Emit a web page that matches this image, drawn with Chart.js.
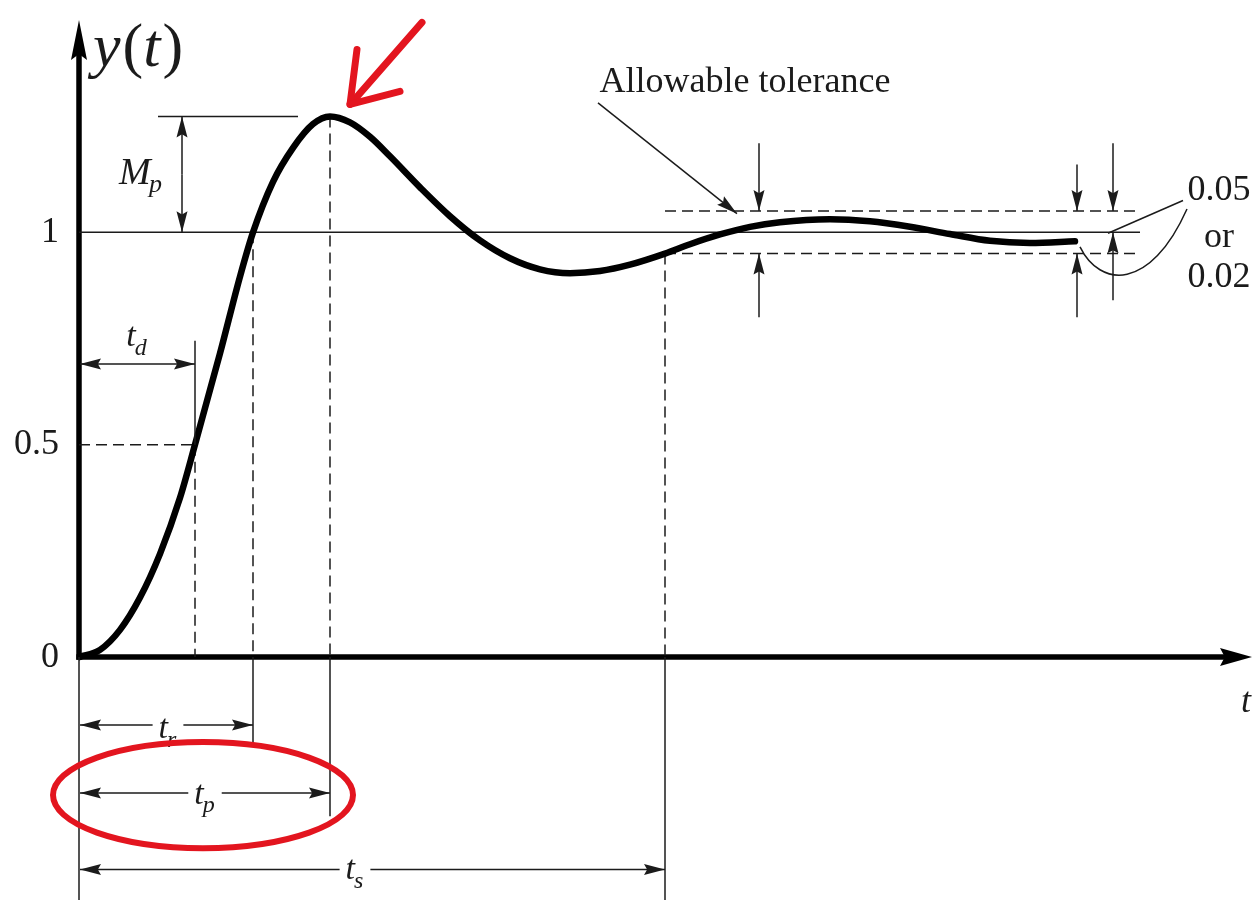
<!DOCTYPE html>
<html>
<head>
<meta charset="utf-8">
<script src="https://cdn.jsdelivr.net/npm/chart.js@4.4.0/dist/chart.umd.min.js"></script>
<style>
  html, body { margin: 0; padding: 0; background: #fff; }
  #wrap { width: 1253px; height: 904px; }
</style>
</head>
<body>
<div id="wrap"><canvas id="stepChart"></canvas></div>
<script>
// step response y(t)
const curveT = [0, 0.21, 0.41, 0.61, 0.81, 1.01, 1.16, 1.41, 1.61, 1.74, 1.94, 2.14, 2.34, 2.51,
                2.71, 2.91, 3.11, 3.41, 3.71, 4.01, 4.31, 4.61, 4.91, 5.21, 5.51, 5.86, 6.11, 6.41,
                6.71, 7.01, 7.51, 7.91, 8.31, 8.71, 9.11, 9.51, 9.96];
const curveY = [0, 0.017, 0.064, 0.140, 0.243, 0.375, 0.5, 0.715, 0.896, 1.0, 1.119, 1.199, 1.255, 1.273,
                1.259, 1.225, 1.179, 1.106, 1.038, 0.981, 0.939, 0.913, 0.904, 0.909, 0.924, 0.95, 0.972, 0.995,
                1.013, 1.024, 1.031, 1.026, 1.013, 0.996, 0.980, 0.975, 0.979];
const yTicks = [0, 0.5, 1];
const tolerance = 0.05;
// td, tr, tp, ts
const markTimes = [1.16, 1.74, 2.51, 5.86];
const peakY = Math.max(...curveY);
const markLevels = [0.5, 1, peakY, 1 - tolerance];
const refEnd = 10.61;   // where the reference and tolerance lines stop

const SERIF = '"Liberation Serif", "Times New Roman", serif';
const INK = '#1b1b1b';

function head(ctx, x1, y1, x2, y2, len, half) {
    const a = Math.atan2(y2 - y1, x2 - x1);
    const c = Math.cos(a), s = Math.sin(a);
    ctx.beginPath();
    ctx.moveTo(x2, y2);
    ctx.lineTo(x2 - len * c + half * s, y2 - len * s - half * c);
    ctx.lineTo(x2 - len * 0.85 * c, y2 - len * 0.85 * s);
    ctx.lineTo(x2 - len * c - half * s, y2 - len * s + half * c);
    ctx.closePath();
    ctx.fill();
}

function seg(ctx, x1, y1, x2, y2) {
    ctx.beginPath();
    ctx.moveTo(x1, y1);
    ctx.lineTo(x2, y2);
    ctx.stroke();
}

function arrow(ctx, x1, y1, x2, y2) {
    seg(ctx, x1, y1, x2, y2);
    head(ctx, x1, y1, x2, y2, 21, 5.5);
}

// italic main letter with a subscript, centred on cx; returns half width
function subLabel(ctx, main, sub, cx, base, size) {
    ctx.font = 'italic ' + size + 'px ' + SERIF;
    const w1 = ctx.measureText(main).width;
    ctx.font = 'italic ' + Math.round(size * 0.7) + 'px ' + SERIF;
    const w2 = ctx.measureText(sub).width;
    const left = cx - (w1 + w2) / 2;
    ctx.textAlign = 'left';
    ctx.textBaseline = 'alphabetic';
    ctx.font = 'italic ' + size + 'px ' + SERIF;
    ctx.fillText(main, left, base);
    ctx.font = 'italic ' + Math.round(size * 0.7) + 'px ' + SERIF;
    ctx.fillText(sub, left + w1 - 1, base + size * 0.25);
    return (w1 + w2) / 2;
}

// horizontal double arrow with label in a gap
function span(ctx, xa, xb, yy, main, sub, cx, dy) {
    const hw = subLabel(ctx, main, sub, cx, yy + dy, 34);
    arrow(ctx, cx - hw - 6, yy, xa, yy);
    arrow(ctx, cx + hw + 6, yy, xb, yy);
}

const annotate = {
    id: 'annotate',
    beforeDatasetsDraw(chart) {
        const { ctx, scales: { x, y } } = chart;
        const x0 = x.getPixelForValue(0), y0 = y.getPixelForValue(0);
        const yTop = y.getPixelForValue(y.max), xTip = x.getPixelForValue(x.max) + 2;
        ctx.save();
        ctx.strokeStyle = '#000';
        ctx.fillStyle = '#000';
        ctx.lineWidth = 5.5;
        seg(ctx, x0, y0 + 2.7, x0, yTop + 30);
        head(ctx, x0, y0, x0, yTop, 40, 8);
        seg(ctx, x0 - 2.7, y0, xTip - 25, y0);
        head(ctx, x0, y0, xTip, y0, 32, 9);
        ctx.restore();
    },
    afterDatasetsDraw(chart) {
        const { ctx, scales: { x, y } } = chart;
        const X = v => x.getPixelForValue(v), Y = v => y.getPixelForValue(v);
        const [td, tr, tp, ts] = markTimes.map(X);
        const x0 = X(0), y0 = Y(0), y1 = Y(1), yp = Y(peakY);
        const yHi = Y(1 + tolerance), yLo = Y(1 - tolerance);

        ctx.save();
        ctx.strokeStyle = INK;
        ctx.fillStyle = INK;
        ctx.lineWidth = 1.5;

        // thin solid guides
        seg(ctx, td, Y(0.745), td, Y(0.5));
        seg(ctx, X(0.79), yp, X(2.19), yp);
        seg(ctx, x0, y0, x0, Y(-0.572));
        seg(ctx, tr, y0, tr, Y(-0.21));
        seg(ctx, tp, y0, tp, Y(-0.375));
        seg(ctx, ts, y0, ts, Y(-0.572));

        // t_d
        const yd = Y(0.69);
        arrow(ctx, (x0 + td) / 2, yd, x0 + 1, yd);
        arrow(ctx, (x0 + td) / 2, yd, td, yd);
        subLabel(ctx, 't', 'd', (x0 + td) / 2, yd - 18, 34);

        // M_p
        const xm = X(1.03);
        arrow(ctx, xm, (y1 + yp) / 2, xm, yp);
        arrow(ctx, xm, (y1 + yp) / 2, xm, y1);
        ctx.font = 'italic 38px ' + SERIF;
        ctx.textAlign = 'left';
        ctx.fillText('M', 119, Y(1.113));
        ctx.font = 'italic 26px ' + SERIF;
        ctx.fillText('p', 149, Y(1.095));

        // t_r, t_p, t_s
        span(ctx, x0 + 1, tr, Y(-0.16), 't', 'r', X(0.89), 13);
        span(ctx, x0 + 1, tp, Y(-0.32), 't', 'p', X(1.26), 11);
        span(ctx, x0 + 1, ts, Y(-0.50), 't', 's', X(2.76), 10);

        // tolerance arrows
        [[6.80, 1.21, 0.80, yLo], [9.98, 1.16, 0.80, yLo], [10.34, 1.21, 0.84, y1]].forEach(a => {
            const xx = X(a[0]);
            arrow(ctx, xx, Y(a[1]), xx, yHi);
            arrow(ctx, xx, Y(a[2]), xx, a[3]);
        });

        // Allowable tolerance pointer
        arrow(ctx, X(5.19), Y(1.305), X(6.58), Y(1.044));
        ctx.font = '36px ' + SERIF;
        ctx.textAlign = 'center';
        ctx.textBaseline = 'middle';
        ctx.fillText('Allowable tolerance', X(6.66), Y(1.353));

        // 0.05 / or / 0.02 with leaders
        const xt = X(11.40);
        ctx.fillText('0.05', xt, Y(1.099));
        ctx.fillText('or', xt, Y(0.988));
        ctx.fillText('0.02', xt, Y(0.894));
        seg(ctx, X(11.04), Y(1.075), X(10.29), Y(0.998));
        ctx.beginPath();
        ctx.moveTo(X(11.08), Y(1.055));
        ctx.bezierCurveTo(X(10.71), Y(0.86), X(10.21), Y(0.87), X(10.01), Y(0.966));
        ctx.stroke();

        // axis labels
        ctx.textAlign = 'left';
        ctx.textBaseline = 'alphabetic';
        ctx.font = 'italic 36px ' + SERIF;
        ctx.fillText('t', X(11.62), Y(-0.13));
        let px = 93;
        const pieces = [['y', 'italic '], ['(', ''], ['t', 'italic '], [')', '']];
        pieces.forEach(p => {
            ctx.font = p[1] + '62px ' + SERIF;
            ctx.fillText(p[0], px, 66);
            px += ctx.measureText(p[0]).width + (p[1] ? 2 : 0);
        });

        // red marks
        ctx.strokeStyle = '#e3151f';
        ctx.lineWidth = 7;
        ctx.lineCap = 'round';
        ctx.lineJoin = 'round';
        const px0 = X(2.51), py0 = yp;
        seg(ctx, px0 + 92, py0 - 94, px0 + 22, py0 - 14);
        seg(ctx, px0 + 27, py0 - 67, px0 + 20, py0 - 12);
        seg(ctx, px0 + 70, py0 - 25, px0 + 20, py0 - 12);
        ctx.lineWidth = 6;
        ctx.beginPath();
        ctx.ellipse(X(1.24), Y(-0.325), X(1.5) - x0, Y(-0.325) - Y(-0.2), 0, 0, Math.PI * 2);
        ctx.stroke();
        ctx.restore();
    }
};

const guide = (pts, dashed) => ({
    data: pts,
    borderColor: INK,
    borderWidth: 1.5,
    borderDash: dashed ? [11, 6] : [],
    pointRadius: 0,
    tension: 0
});

const datasets = [{
    data: curveT.map((t, i) => ({ x: t, y: curveY[i] })),
    borderColor: '#000',
    borderWidth: 6.5,
    pointRadius: 0,
    cubicInterpolationMode: 'monotone',
    borderCapStyle: 'round'
}];
datasets.push(guide([{ x: 0, y: 1 }, { x: refEnd, y: 1 }], false));
datasets.push(guide([{ x: markTimes[3], y: 1 + tolerance }, { x: refEnd, y: 1 + tolerance }], true));
datasets.push(guide([{ x: markTimes[3], y: 1 - tolerance }, { x: refEnd, y: 1 - tolerance }], true));
datasets.push(guide([{ x: 0, y: 0.5 }, { x: markTimes[0], y: 0.5 }], true));
markTimes.forEach((t, i) => datasets.push(guide([{ x: t, y: markLevels[i] }, { x: t, y: 0 }], true)));

new Chart(document.getElementById('stepChart').getContext('2d'), {
    type: 'line',
    data: { datasets: datasets },
    options: {
        responsive: true,
        maintainAspectRatio: false,
        animation: false,
        layout: { padding: { left: 0, right: 3, top: 20, bottom: 4 } },
        plugins: { legend: { display: false }, tooltip: { enabled: false } },
        scales: {
            x: { type: 'linear', min: 0, max: 11.71, display: false },
            y: {
                type: 'linear',
                min: -0.572,
                max: 1.5,
                afterBuildTicks: s => { s.ticks = yTicks.map(v => ({ value: v })); },
                afterFit: s => { s.width = 79; s.paddingTop = 0; s.paddingBottom = 0; },
                grid: { display: false, drawTicks: false },
                border: { display: false },
                ticks: {
                    padding: 20,
                    color: INK,
                    font: { family: SERIF, size: 36 },
                    callback: v => String(v)
                }
            }
        }
    },
    plugins: [annotate]
});
</script>
</body>
</html>
